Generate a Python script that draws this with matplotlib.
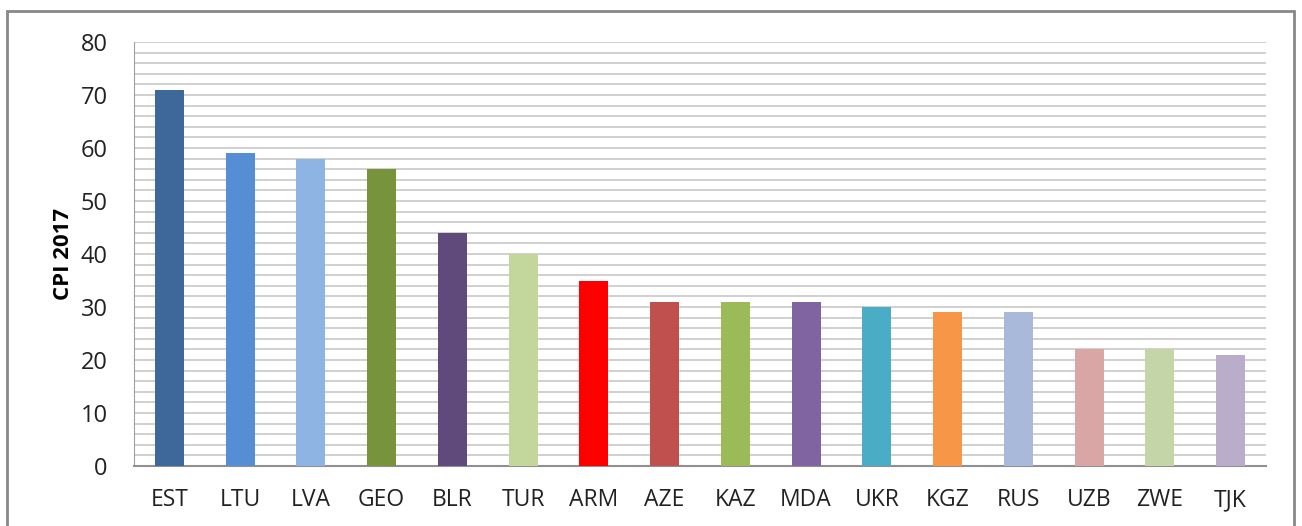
import matplotlib
matplotlib.use("Agg")
import matplotlib.pyplot as plt
from matplotlib.patches import Rectangle
import numpy as np

countries = ["EST", "LTU", "LVA", "GEO", "BLR", "TUR", "ARM", "AZE", "KAZ", "MDA",
             "UKR", "KGZ", "RUS", "UZB", "ZWE", "TJK"]
cpi_2017 = [71, 59, 58, 56, 44, 40, 35, 31, 31, 31, 30, 29, 29, 22, 22, 21]
bar_colors = ["#3F689A", "#558ED5", "#8EB4E3", "#77933C", "#604A7B", "#C3D69B",
              "#FF0000", "#C0504D", "#9BBB59", "#8064A2", "#4BACC6", "#F79646",
              "#A9B9D9", "#D9A5A5", "#C4D6A7", "#B9ADC9"]
y_ticks = [0, 10, 20, 30, 40, 50, 60, 70, 80]

plt.rcParams['font.family'] = ['Open Sans', 'DejaVu Sans']

fig = plt.figure(figsize=(13.02, 5.26), dpi=100)
ax = fig.add_axes([134/1302, 1 - 466/526, (1266-134)/1302, (466-42)/526])

x = np.arange(len(countries))
ax.bar(x, cpi_2017, width=0.41, color=bar_colors, zorder=3)
ax.set_xlim(-0.5, len(countries) - 0.5)
ax.set_ylim(0, 80)
ax.set_yticks(y_ticks)
ax.set_yticks(np.arange(0, 81, 2), minor=True)
ax.grid(axis='y', which='both', color='#C8C8C8', linewidth=1.2, zorder=0)
ax.set_xticks(x)
ax.set_xticklabels(countries, fontsize=16.5, color='#222222')
ax.tick_params(axis='y', labelsize=17, length=0, pad=19, colors='#222222')
ax.tick_params(axis='y', which='minor', length=0)
ax.tick_params(axis='x', length=0, pad=16)
for s in ['top', 'right']:
    ax.spines[s].set_visible(False)
ax.spines['left'].set_color('#A0A0A0')
ax.spines['bottom'].set_color('#909090')
ax.spines['bottom'].set_linewidth(1.5)
ax.set_ylabel("CPI 2017", fontsize=16, fontweight='bold', labelpad=5)

fig.patches.append(Rectangle((7/1302, -0.05), (1294-7)/1302, 1 - 11/526 + 0.05,
                             transform=fig.transFigure, fill=False,
                             edgecolor='#888888', linewidth=2))

fig.savefig("out.png", dpi=100)
